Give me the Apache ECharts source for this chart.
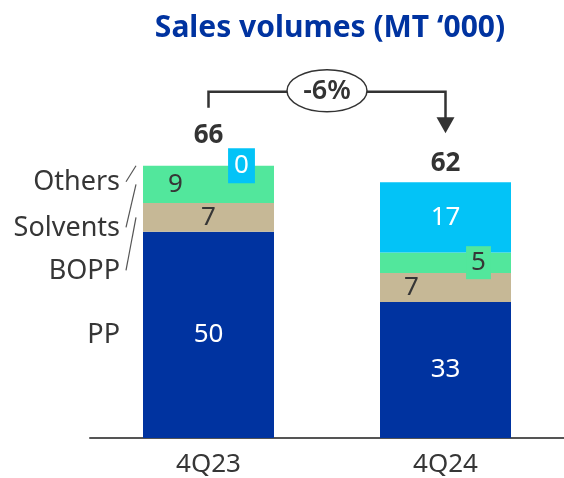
<!DOCTYPE html>
<html>
<head>
<meta charset="utf-8">
<script src="https://cdn.jsdelivr.net/npm/echarts@6/dist/echarts.min.js"></script>
<style>
  html, body { margin: 0; padding: 0; background: #fff; }
  #chart { width: 564px; height: 478px; }
</style>
</head>
<body>
<div id="chart"></div>
<script>
var quarters = ['4Q23', '4Q24'];
var ppData = [50, 33];
var boppData = [7, 7];
var solventsData = [9, 5];
var othersData = [0, 17];
var totals = [66, 62];
var changeText = '-6%';
var seriesNames = ['Others', 'Solvents', 'BOPP', 'PP'];

var FONT = '"Noto Sans", sans-serif';
var TXT = '#363636';
var BLUE = '#0033a0', TAN = '#c6b896', GREEN = '#52e79c', CYAN = '#03c3f7';

var chart = echarts.init(document.getElementById('chart'));

// attach per-item label tweaks to plain values
function items(values, labels) {
  return values.map(function(v, i) {
    return labels && labels[i] ? { value: v, label: labels[i] } : v;
  });
}

var option = {
  animation: false,
  title: {
    text: 'Sales volumes (MT \u2018000)',
    left: 325, top: 8, textAlign: 'center',
    textStyle: { color: BLUE, fontFamily: FONT, fontWeight: 'bold', fontSize: 30 }
  },
  grid: { left: 90, right: 0, top: 108, bottom: 40 },
  xAxis: {
    type: 'category',
    data: quarters,
    axisLine: { lineStyle: { color: '#555', width: 2 } },
    axisTick: { show: false },
    axisLabel: { color: TXT, fontFamily: FONT, fontSize: 26, margin: 14 }
  },
  yAxis: { type: 'value', min: 0, max: 80, show: false, splitLine: { show: false } },
  series: [
    {
      name: 'PP', type: 'bar', stack: 'vol', barWidth: 131,
      itemStyle: { color: BLUE },
      label: { show: true, position: 'inside', color: '#fff', fontFamily: FONT, fontSize: 26 },
      data: ppData
    },
    {
      name: 'BOPP', type: 'bar', stack: 'vol',
      itemStyle: { color: TAN },
      label: { show: true, position: 'inside', color: TXT, fontFamily: FONT, fontSize: 26 },
      data: items(boppData, [null, { offset: [-34, 0] }])
    },
    {
      name: 'Solvents', type: 'bar', stack: 'vol',
      itemStyle: { color: GREEN },
      label: { show: true, position: 'inside', color: TXT, fontFamily: FONT, fontSize: 26 },
      data: items(solventsData, [
        { offset: [-33, 0] },
        { offset: [33, 0], backgroundColor: GREEN, padding: [4, 5, 3, 5] }
      ])
    },
    {
      name: 'Others', type: 'bar', stack: 'vol',
      itemStyle: { color: CYAN },
      label: { show: true, position: 'inside', color: '#fff', fontFamily: FONT, fontSize: 26 },
      data: items(othersData, [
        { offset: [33, 0], backgroundColor: CYAN, padding: [5, 6, 4, 6] },
        null
      ])
    },
    {
      name: 'Total', type: 'scatter', symbolSize: 0, silent: true,
      itemStyle: { opacity: 1 },
      label: { show: true, position: 'top', color: '#333', fontFamily: FONT, fontSize: 26, fontWeight: 'bold' },
      data: items(totals, [{ distance: 17 }, { distance: 6 }])
    }
  ]
};
chart.setOption(option);

// change bracket and series names, placed from the chart's own scale
var a = chart.convertToPixel({ seriesIndex: 4 }, [0, totals[0]]);
var b = chart.convertToPixel({ seriesIndex: 4 }, [1, totals[1]]);
var lineY = a[1] - 74;
var midX = (a[0] + b[0]) / 2;
var ink = '#333';

function segMid(idx, lo, hi) {
  return chart.convertToPixel({ seriesIndex: 0 }, [idx, (lo + hi) / 2])[1];
}
var base0 = ppData[0];
var tops = [
  a[1],
  segMid(0, base0 + boppData[0], totals[0]),
  segMid(0, base0, base0 + boppData[0])
];
var nameY = [a[1] + 17, tops[1] + 44, tops[2] + 54, segMid(0, 0, base0)];

var graphics = [
  { type: 'polyline', shape: { points: [[a[0], a[1] - 58], [a[0], lineY], [b[0], lineY], [b[0], b[1] - 64]] },
    style: { stroke: ink, lineWidth: 2.5, fill: null } },
  { type: 'polygon', shape: { points: [[b[0] - 9, b[1] - 65], [b[0] + 9, b[1] - 65], [b[0], b[1] - 49]] },
    style: { fill: ink } },
  { type: 'ellipse', shape: { cx: midX, cy: lineY - 1, rx: 40, ry: 21 },
    style: { fill: '#fff', stroke: ink, lineWidth: 1.5 } },
  { type: 'text', x: midX, y: lineY, style: { text: changeText, fill: ink, font: '600 27px ' + FONT, align: 'center', verticalAlign: 'middle' } }
];
seriesNames.forEach(function(n, i) {
  graphics.push({ type: 'text', x: 120, y: nameY[i],
    style: { text: n, fill: TXT, font: '27px ' + FONT, align: 'right', verticalAlign: 'middle' } });
  if (i < 3) {
    graphics.push({ type: 'line', shape: { x1: 126, y1: nameY[i] - 1, x2: 136, y2: tops[i] },
      style: { stroke: '#555', lineWidth: 1.2 } });
  }
});
chart.setOption({ graphic: graphics });

window.addEventListener('resize', function() { chart.resize(); });
</script>
</body>
</html>
